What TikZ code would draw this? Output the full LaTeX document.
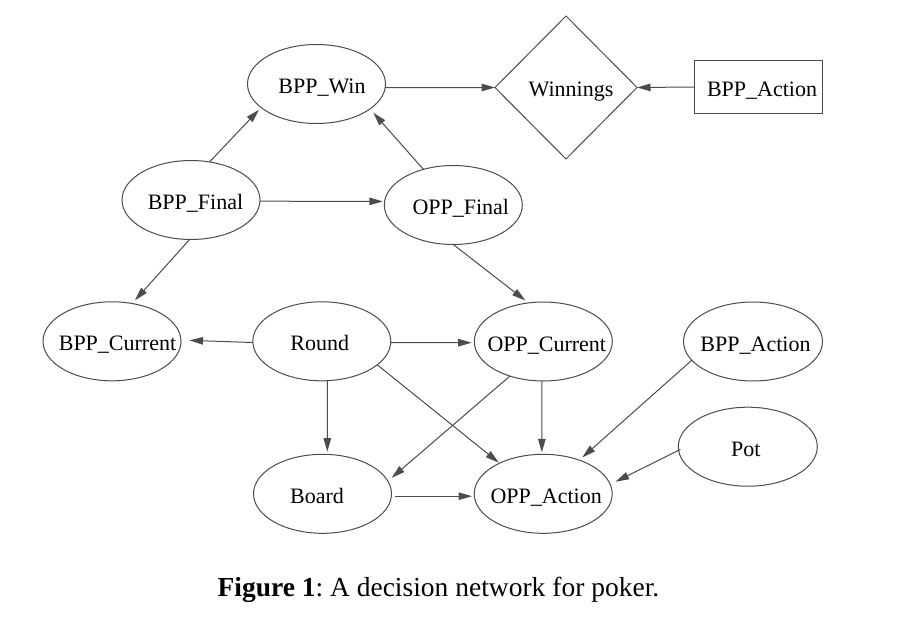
\documentclass[tikz,border=0pt]{standalone}
\usepackage{fontspec}
\setmainfont{Liberation Serif}
\usetikzlibrary{shapes.geometric,arrows.meta}
\newcommand{\tx}[2]{\makebox[0pt]{\hspace*{#1}#2}}
\definecolor{ln}{rgb}{0.3,0.3,0.3}
\tikzset{
  base/.style={draw=ln, line width=1pt, inner sep=0pt, outer sep=0pt,
    text height=22pt, text depth=3pt, font=\fontsize{22}{26}\selectfont},
  ell/.style={base, ellipse, minimum width=138pt, minimum height=79pt},
  dia/.style={base, diamond, minimum width=142pt, minimum height=143pt},
  box/.style={base, rectangle, minimum width=128pt, minimum height=53pt},
  edge/.style={draw=ln, line width=1pt, -{Triangle[length=13.5pt,width=7.5pt]}},
}
\begin{document}
\frenchspacing
\begin{tikzpicture}[x=1pt,y=-1pt]
\useasboundingbox[fill=white] (0,0) rectangle (923,620);
\node[ell] (W)  at (316.5,84)   {\tx{11pt}{BPP\_Win}};
\node[dia] (D)  at (566,87.5)   {\tx{10pt}{Winnings}};
\node[box] (R)  at (758.5,87)   {\tx{7pt}{BPP\_Action}};
\node[ell] (BF) at (191,200)    {\tx{9pt}{BPP\_Final}};
\node[ell] (OF) at (453.3,205)  {\tx{15pt}{OPP\_Final}};
\node[ell] (BC) at (112,341.3)  {\tx{11pt}{BPP\_Current}};
\node[ell] (RD) at (321.8,341.3){\tx{-4pt}{Round}};
\node[ell] (OC) at (543.3,341.5){\tx{7pt}{OPP\_Current}};
\node[ell, minimum width=139pt] (BA) at (753,341.5) {\tx{5pt}{BPP\_Action}};
\node[ell, minimum width=139pt] (P)  at (747.8,446.7) {\tx{-4pt}{Pot}};
\node[ell] (B)  at (322.5,493.8){\tx{-11pt}{Board}};
\node[ell] (OA) at (543.2,493.8){\tx{6pt}{OPP\_Action}};
\node[anchor=base, font=\fontsize{27.5}{32}\selectfont] (cap) at (438.4,596)
  {\textbf{Figure 1}: A decision network for poker.};

\draw[edge] (W.-3) -- (D.west);
\draw[edge] (R.west) -- (D.east);
\draw[edge, shorten >=3pt] (BF.64.2) -- (W.203.4);
\draw[edge, shorten >=5pt] (OF.130.7) -- (W.-25);
\draw[edge, shorten >=1.8pt] (BF.-1.9) -- (OF.177.8);
\draw[edge, shorten >=4.3pt] (BF.268.5) -- (BC.62);
\draw[edge, shorten >=4pt] (OF.-90) -- (OC.111.5);
\draw[edge, shorten >=8.6pt] (RD.181.2) -- (BC.1.4);
\draw[edge, shorten >=2.7pt] (RD.-1.6) -- (OC.181.5);
\draw[edge, shorten >=2.7pt] (RD.-82.05) -- (B.83.05);
\draw[edge, shorten >=1pt] (RD.-23.8) -- (OA.145.9);
\draw[edge, shorten >=5pt] (OC.226.2) -- (B.11.1);
\draw[edge, shorten >=2pt] (OC.-92.3) -- (OA.92.2);
\draw[edge, shorten >=4pt] (BA.197) -- (OA.43.6);
\draw[edge, shorten <=-2pt, shorten >=6pt] (P.183.5) -- (OA.8);
\draw[edge, shorten <=4pt, shorten >=2.3pt] (B.-2.4) -- (OA.182.4);
\end{tikzpicture}
\end{document}
